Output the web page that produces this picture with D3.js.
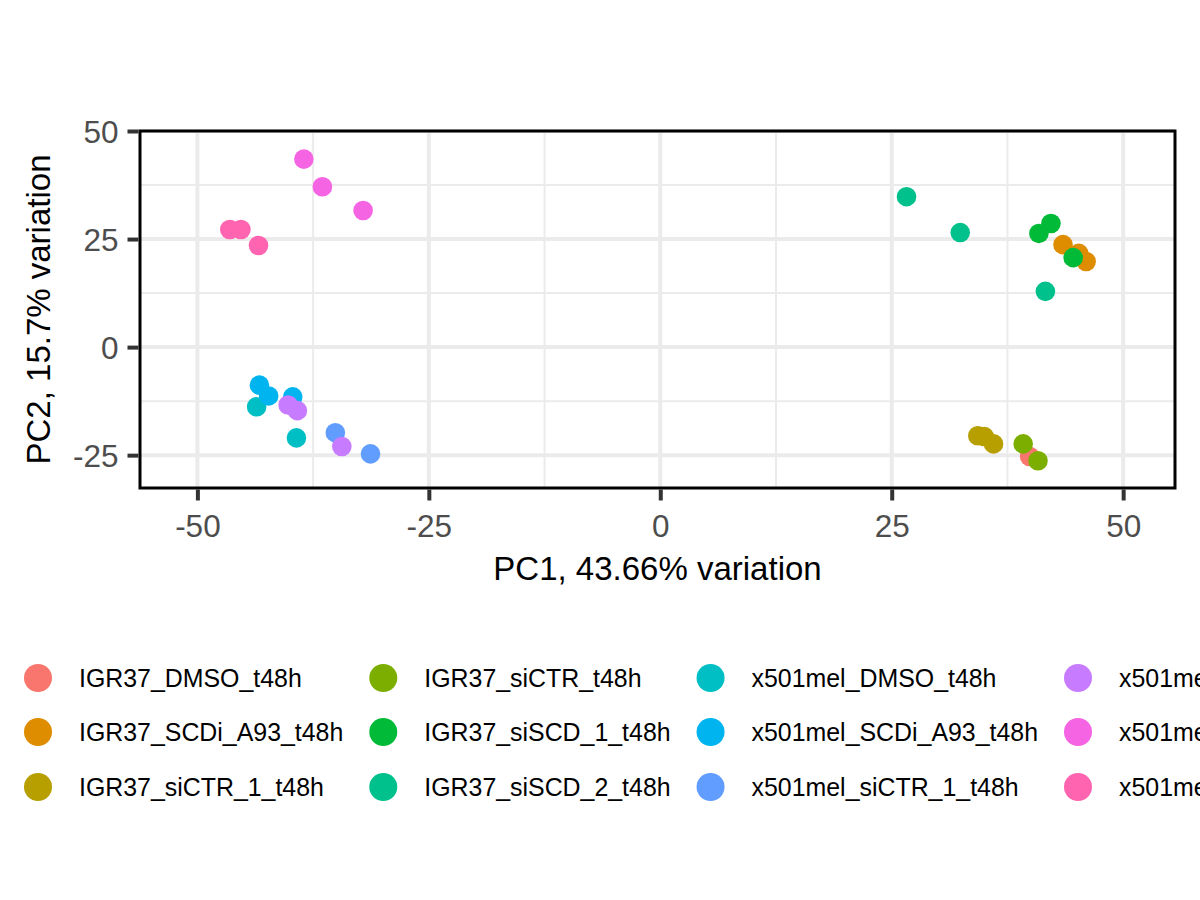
<!DOCTYPE html>
<html>
<head>
<meta charset="utf-8">
<script src="https://cdn.jsdelivr.net/npm/d3@7"></script>
<style>
  body { margin: 0; background: #fff; }
  text { font-family: "Liberation Sans", Arial, sans-serif; }
</style>
</head>
<body>
<div id="chart"></div>
<script>
// sample groups (legend order) and their hue colours
var groups = ['IGR37_DMSO_t48h', 'IGR37_SCDi_A93_t48h', 'IGR37_siCTR_1_t48h',
              'IGR37_siCTR_t48h', 'IGR37_siSCD_1_t48h', 'IGR37_siSCD_2_t48h',
              'x501mel_DMSO_t48h', 'x501mel_SCDi_A93_t48h', 'x501mel_siCTR_1_t48h',
              'x501mel_siCTR_t48h', 'x501mel_siSCD_1_t48h', 'x501mel_siSCD_2_t48h'];
var colors = ['#F8766D', '#DE8C00', '#B79F00', '#7CAE00', '#00BA38', '#00C08B',
              '#00BFC4', '#00B4F0', '#619CFF', '#C77CFF', '#F564E3', '#FF64B0'];

// PC1 / PC2 per sample, one array per group (same order as groups)
var pc1 = [[39.9],
           [43.5, 45.2, 46.0],
           [34.3, 35.0, 36.0],
           [39.2, 40.8],
           [42.2, 40.9, 44.6],
           [26.6, 32.4, 41.6],
           [-43.6, -39.3],
           [-43.3, -42.3, -39.7],
           [-35.1, -31.3],
           [-40.2, -39.2, -34.4],
           [-38.5, -36.5, -32.1],
           [-46.5, -45.3, -43.4]];
var pc2 = [[-25.3],
           [23.7, 21.7, 19.8],
           [-20.5, -20.7, -22.4],
           [-22.4, -26.3],
           [28.6, 26.3, 20.7],
           [34.8, 26.5, 12.9],
           [-13.8, -21.0],
           [-8.8, -11.3, -11.5],
           [-19.8, -24.7],
           [-13.4, -14.7, -23.0],
           [43.5, 37.1, 31.6],
           [27.2, 27.2, 23.5]];

var xTicks = [-50, -25, 0, 25, 50];
var yTicks = [-25, 0, 25, 50];
var xMinor = [-37.5, -12.5, 12.5, 37.5];
var yMinor = [-12.5, 12.5, 37.5];

var xTitle = 'PC1, 43.66% variation';
var yTitle = 'PC2, 15.7% variation';

var W = 1200, H = 900;
var L = 140, R = 1175, T = 131, B = 488;

var svg = d3.select('#chart').append('svg')
    .attr('width', W).attr('height', H);
svg.append('rect').attr('width', W).attr('height', H).style('fill', '#fff');

var x = d3.scaleLinear().domain([-56.2, 55.6]).range([L, R]);
var y = d3.scaleLinear().domain([-32.6, 50]).range([B, T]);

var panel = svg.append('g');

// grid
panel.selectAll('.xminor').data(xMinor).enter().append('line')
    .attr('x1', d => x(d)).attr('x2', d => x(d)).attr('y1', T).attr('y2', B)
    .style('stroke', '#EBEBEB').style('stroke-width', 2);
panel.selectAll('.yminor').data(yMinor).enter().append('line')
    .attr('y1', d => y(d)).attr('y2', d => y(d)).attr('x1', L).attr('x2', R)
    .style('stroke', '#EBEBEB').style('stroke-width', 2);
panel.selectAll('.xmajor').data(xTicks).enter().append('line')
    .attr('x1', d => x(d)).attr('x2', d => x(d)).attr('y1', T).attr('y2', B)
    .style('stroke', '#EBEBEB').style('stroke-width', 4);
panel.selectAll('.ymajor').data(yTicks).enter().append('line')
    .attr('y1', d => y(d)).attr('y2', d => y(d)).attr('x1', L).attr('x2', R)
    .style('stroke', '#EBEBEB').style('stroke-width', 4);

// points
var pts = [];
groups.forEach(function(g, i){
  pc1[i].forEach(function(v, j){
    pts.push({g: i, x: v, y: pc2[i][j]});
  });
});
panel.selectAll('circle').data(pts).enter().append('circle')
    .attr('cx', d => x(d.x)).attr('cy', d => y(d.y)).attr('r', 9.8)
    .style('fill', d => colors[d.g]);

// border
svg.append('rect')
    .attr('x', L).attr('y', T).attr('width', R - L).attr('height', B - T)
    .style('fill', 'none').style('stroke', '#000').style('stroke-width', 3);

// axes (plain hyphen for negatives, like the original)
var fmt = d => String(d);
var xAxis = svg.append('g').attr('transform', 'translate(0,' + (B + 1.5) + ')')
    .call(d3.axisBottom(x).tickValues(xTicks).tickSize(11).tickPadding(14).tickFormat(fmt));
var yAxis = svg.append('g').attr('transform', 'translate(' + (L - 1.5) + ',0)')
    .call(d3.axisLeft(y).tickValues(yTicks).tickSize(11).tickPadding(9).tickFormat(fmt));
[xAxis, yAxis].forEach(function(a){
  a.select('.domain').remove();
  a.selectAll('line').style('stroke', '#333333').style('stroke-width', 4);
  a.selectAll('text').style('fill', '#4D4D4D').style('font-size', '31.5px')
    .style('font-family', '"Liberation Sans", Arial, sans-serif');
});
yAxis.selectAll('text').attr('dy', '0.36em');

svg.append('text').text(xTitle)
    .attr('x', (L + R) / 2).attr('y', 580)
    .attr('text-anchor', 'middle').style('font-size', '33px').style('fill', '#000');
svg.append('text').text(yTitle)
    .attr('transform', 'translate(50,' + ((T + B) / 2) + ') rotate(-90)')
    .attr('text-anchor', 'middle').style('font-size', '33px').style('fill', '#000');

// legend: 3 rows, columns laid out by text width
var rowsY = [678, 732, 787];
var leg = svg.append('g');
var cx = 38;
for (var c = 0; c < 4; c++) {
  var maxW = 0;
  for (var r = 0; r < 3; r++) {
    var k = c * 3 + r;
    leg.append('circle').attr('cx', cx).attr('cy', rowsY[r]).attr('r', 14)
       .style('fill', colors[k]);
    var t = leg.append('text').text(groups[k])
       .attr('x', cx + 41).attr('y', rowsY[r]).attr('dy', '0.36em')
       .style('font-size', '24.9px').style('fill', '#000');
    maxW = Math.max(maxW, t.node().getComputedTextLength());
  }
  cx = cx + 41 + maxW + 40;
}
</script>
</body>
</html>
